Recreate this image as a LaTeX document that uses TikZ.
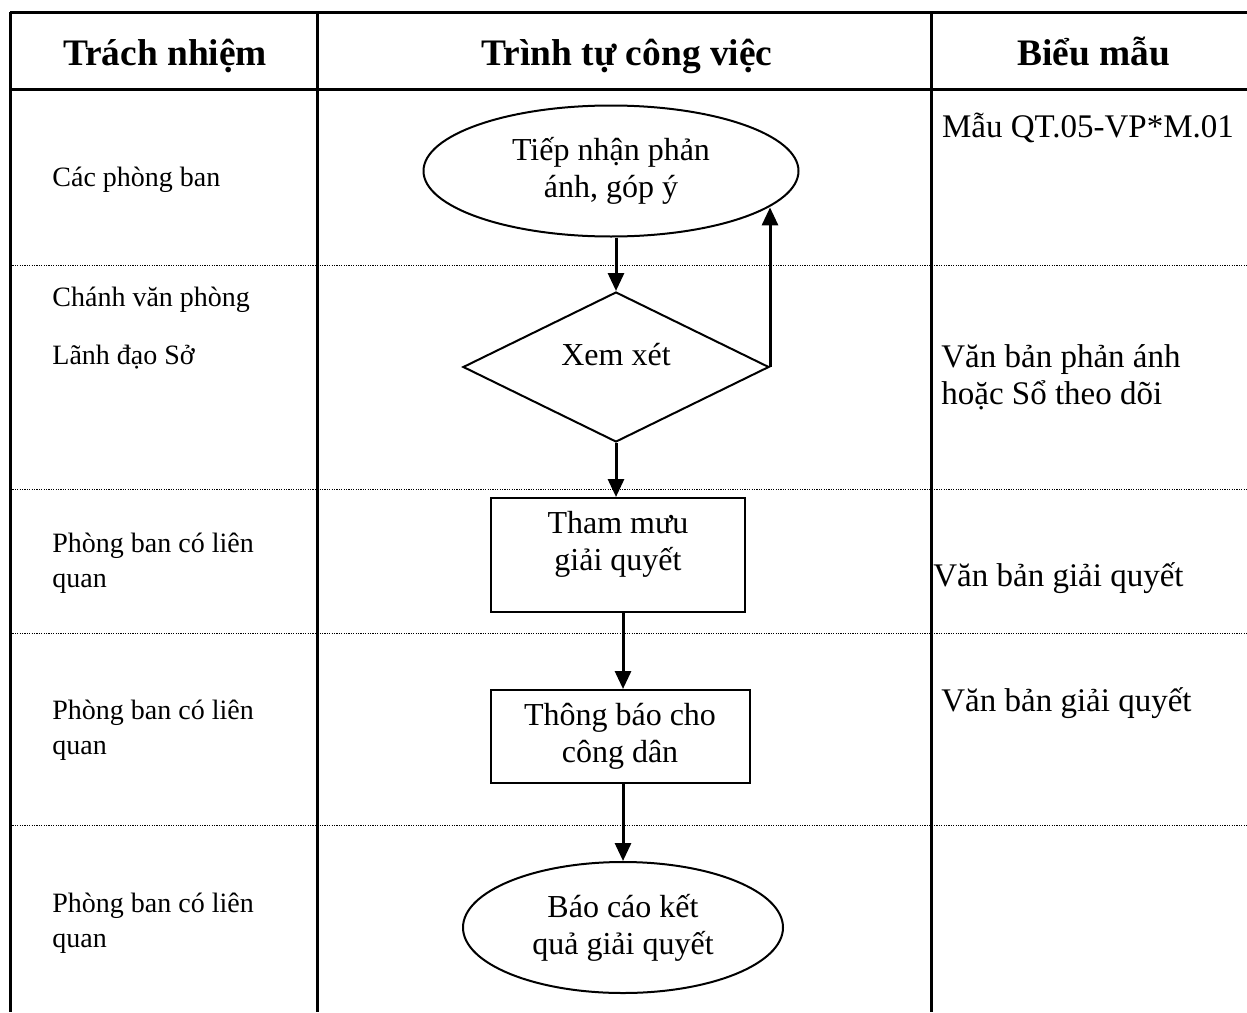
\documentclass[tikz,border=0pt]{standalone}
\usepackage{fontspec}
\setmainfont{Liberation Serif}
\usetikzlibrary{shapes.geometric,arrows.meta,calc}
\begin{document}
\begin{tikzpicture}[x=0.5pt,y=-0.5pt,
  border/.style={line width=1.5pt},
  rowline/.style={line width=0.5pt,dash pattern=on 0.6pt off 0.6pt},
  head/.style={font=\fontsize{18.7}{22}\selectfont\bfseries,inner sep=0,anchor=base},
  ltxt/.style={font=\fontsize{14}{17.5}\selectfont,inner sep=0,align=left,anchor=west},
  rtxt/.style={font=\fontsize{16.5}{18.5}\selectfont,inner sep=0,align=left},
  ftxt/.style={font=\fontsize{16}{18.5}\selectfont,inner sep=0,align=center},
  shp/.style={draw,line width=1pt,inner sep=0,ftxt},
  arr/.style={line width=1.5pt,-{Triangle[width=8pt,length=9pt]}}]
\useasboundingbox (0,0) rectangle (1247,1012);
% table
\draw[border] (10,12) -- (1247,12);
\draw[border] (10,89) -- (1247,89);
\draw[border] (10,12) -- (10,1012);
\draw[border] (317,12) -- (317,1012);
\draw[border] (931,12) -- (931,1012);
\foreach \y in {265,489,633,825} \draw[rowline] (10,\y) -- (1247,\y);
% headers
\node[head] (h1) at (165,65) {Trách nhiệm};
\node[head] (h2) at (627,65) {Trình tự công việc};
\node[head] (h3) at (1094,65) {Biểu mẫu};
% left column
\node[ltxt] (l1) at (52,180) {Các phòng ban};
\node[ltxt] (l2a) at (52,300) {Chánh văn phòng};
\node[ltxt] (l2b) at (52,357) {Lãnh đạo Sở};
\node[ltxt] (l3) at (52,563) {Phòng ban có liên\\quan};
\node[ltxt] (l4) at (52,730) {Phòng ban có liên\\quan};
\node[ltxt] (l5) at (52,923) {Phòng ban có liên\\quan};
% right column
\node[rtxt] (r1) at (1088,128) {Mẫu QT.05-VP*M.01};
\node[rtxt,anchor=west] (r2) at (941,377) {Văn bản phản ánh\\hoặc Sổ theo dõi};
\node[rtxt,anchor=west] (r3) at (933,578) {Văn bản giải quyết};
\node[rtxt,anchor=west] (r4) at (941,703) {Văn bản giải quyết};
% flow
\node[shp,ellipse,minimum width=187.5pt,minimum height=65.5pt] (e1) at (611,171) {Tiếp nhận phản\\ánh, góp ý};
\node[shp,diamond,minimum width=153pt,minimum height=75pt,
  label={[ftxt,yshift=6pt]center:Xem xét}] (d) at (616,367) {};
\node[shp,rectangle,minimum width=127pt,minimum height=57pt,
  label={[ftxt,yshift=5.5pt]center:{Tham mưu\\giải quyết}}] (b1) at (618,555) {};
\node[shp,rectangle,minimum width=129.5pt,minimum height=46.5pt] (b2) at (620,736.5) {Thông báo cho\\công dân};
\node[shp,ellipse,minimum width=160pt,minimum height=65.5pt] (e2) at (623,927.5) {Báo cáo kết\\quả giải quyết};
% connectors
\draw[arr] (e1.south -| d.north) -- (d.north);
\draw[arr] (d.east) -- (d.east |- e1.-13);
\draw[arr] (d.south) -- (d.south |- b1.north);
\draw[arr] ([xshift=2.5pt]b1.south) -- ([xshift=2.5pt]b1.south |- b2.north);
\draw[arr] ([xshift=1.5pt]b2.south) -- ([xshift=1.5pt]b2.south |- e2.north);
\end{tikzpicture}
\end{document}
